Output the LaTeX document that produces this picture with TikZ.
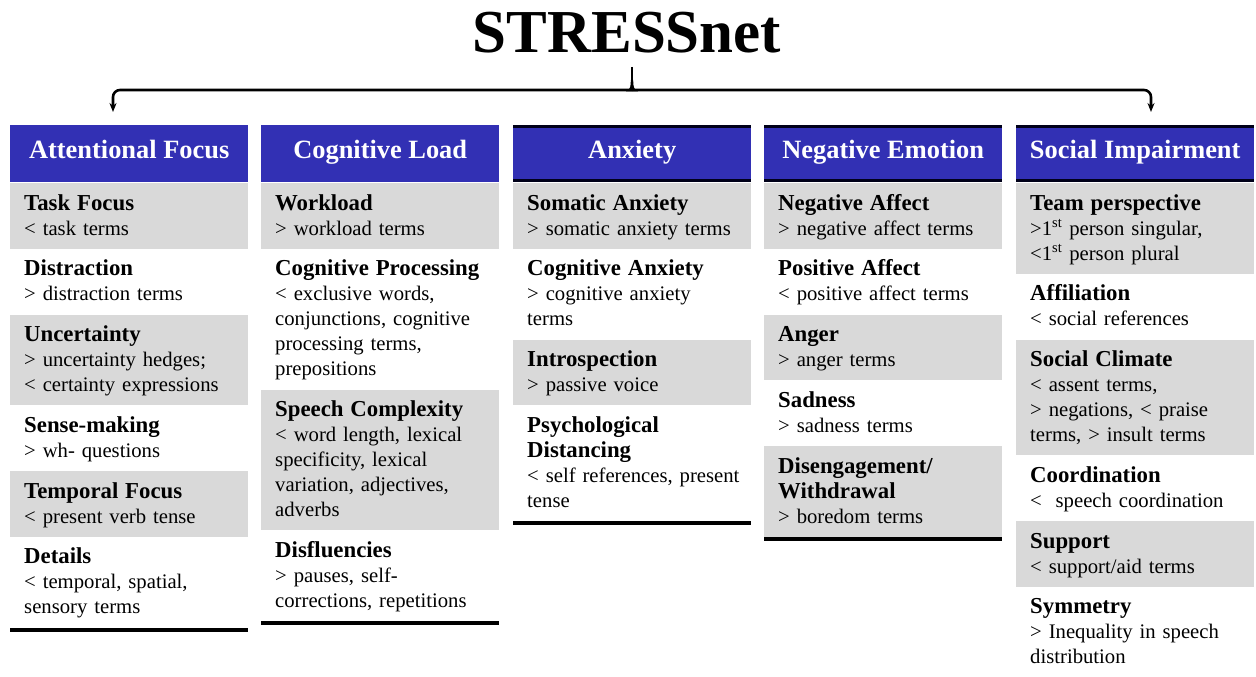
\documentclass[tikz,border=0pt]{standalone}
\usepackage{fontspec}
\setmainfont{Liberation Serif}
\usetikzlibrary{arrows.meta,positioning}

\definecolor{headblue}{RGB}{50,48,180}
\definecolor{rowgray}{RGB}{217,217,217}

% strut used on every line of a cell: 25pt line pitch
\newcommand\cellstrut{\rule[-6pt]{0pt}{25pt}}
\newcommand\rt[1]{\cellstrut{\fontsize{22.8}{25}\selectfont\bfseries #1}}
\newcommand\bt[1]{\cellstrut #1}

% one cell of a column: name, number of lines, fill, text
\newcommand\cellrow[4]{%
  \pgfmathsetmacro\rowh{25*#2+15.75}%
  \node[cellbox, fill=#3, minimum height=\rowh pt] (#1) at (\curx,\cury) {};
  \node[celltext] (#1t) at ([xshift=14pt,yshift=-7.875pt]#1.north west) {#4};
  \pgfmathsetmacro\rowbottom{\cury+\rowh}%
  \xdef\cury{\rowbottom}%
}

\begin{document}
\begin{tikzpicture}[x=1pt,y=-1pt,
  cellbox/.style={anchor=north west, inner sep=0pt, minimum width=238pt, draw=none},
  celltext/.style={anchor=north west, inner sep=0pt, text width=224pt, align=left,
    font=\fontsize{20.7}{25}\selectfont},
  headbox/.style={anchor=north west, inner sep=0pt, minimum width=238pt,
    minimum height=57pt, fill=headblue, draw=none},
  headtext/.style={anchor=base, inner sep=0pt, text=white,
    font=\fontsize{26.4}{30}\selectfont\bfseries},
  blackrule/.style={line width=3pt, draw=black!90!blue},
  bottomrule/.style={line width=4pt, draw=black},
  bracket/.style={line width=2.6pt, draw=black, rounded corners=7pt},
  tip/.style={-{Stealth[length=9pt,width=7pt]}}]

\useasboundingbox (0,0) rectangle (1256,677);

% title and its bracket
\node[anchor=base, inner sep=0pt, font=\fontsize{61}{61}\selectfont\bfseries] (title) at (627,53) {STRESSnet};
\coordinate (bt) at (632,90);
\coordinate (nt) at (632,67);
\coordinate (la) at (113,112);
\coordinate (ra) at (1151,112);
% central point of the bracket, flaring where it meets the bar
\draw[line width=2.4pt] (nt) -- (632,84);
\fill (626,91.3) .. controls (630.6,89.5) and (630.8,86) .. (630.8,80)
      -- (633.2,80) .. controls (633.2,86) and (633.4,89.5) .. (638,91.3) -- cycle;
\draw[bracket, tip] (bt) -| (la);
\draw[bracket, tip] (bt) -| (ra);

% column headers
\foreach \n/\x/\t in {1/10/Attentional Focus, 2/261/Cognitive Load, 3/513/Anxiety,
                      4/764/Negative Emotion, 5/1016/Social Impairment} {
  \node[headbox] (h\n) at (\x,125) {};
  \node[headtext] (h\n t) at ([yshift=-33pt]h\n.north) {\t};
}
\foreach \n in {3,4,5} {
  \draw[blackrule] ([yshift=-1.5pt]h\n.north west) -- ([yshift=-1.5pt]h\n.north east);
  \draw[blackrule] ([yshift=-55.5pt]h\n.north west) -- ([yshift=-55.5pt]h\n.north east);
}

% Attentional Focus
\xdef\curx{10}\xdef\cury{183}
\cellrow{a1}{2}{rowgray}{\rt{Task Focus}\\\bt{< task terms}}
\cellrow{a2}{2}{white}{\rt{Distraction}\\\bt{> distraction terms}}
\cellrow{a3}{3}{rowgray}{\rt{Uncertainty}\\\bt{> uncertainty hedges;}\\\bt{< certainty expressions}}
\cellrow{a4}{2}{white}{\rt{Sense-making}\\\bt{> wh- questions}}
\cellrow{a5}{2}{rowgray}{\rt{Temporal Focus}\\\bt{< present verb tense}}
\cellrow{a6}{3}{white}{\rt{Details}\\\bt{< temporal, spatial,}\\\bt{sensory terms}}
\draw[bottomrule] ([yshift=-2pt]a6.south west) -- ([yshift=-2pt]a6.south east);

% Cognitive Load
\xdef\curx{261}\xdef\cury{183}
\cellrow{b1}{2}{rowgray}{\rt{Workload}\\\bt{> workload terms}}
\cellrow{b2}{5}{white}{\rt{Cognitive Processing}\\\bt{< exclusive words,}\\\bt{conjunctions, cognitive}\\\bt{processing terms,}\\\bt{prepositions}}
\cellrow{b3}{5}{rowgray}{\rt{Speech Complexity}\\\bt{< word length, lexical}\\\bt{specificity, lexical}\\\bt{variation, adjectives,}\\\bt{adverbs}}
\cellrow{b4}{3}{white}{\rt{Disfluencies}\\\bt{> pauses, self-}\\\bt{corrections, repetitions}}
\draw[bottomrule] ([yshift=-2pt]b4.south west) -- ([yshift=-2pt]b4.south east);

% Anxiety
\xdef\curx{513}\xdef\cury{183}
\cellrow{c1}{2}{rowgray}{\rt{Somatic Anxiety}\\\bt{> somatic anxiety terms}}
\cellrow{c2}{3}{white}{\rt{Cognitive Anxiety}\\\bt{> cognitive anxiety}\\\bt{terms}}
\cellrow{c3}{2}{rowgray}{\rt{Introspection}\\\bt{> passive voice}}
\cellrow{c4}{4}{white}{\rt{Psychological}\\\rt{Distancing}\\\bt{< self references, present}\\\bt{tense}}
\draw[bottomrule] ([yshift=-2pt]c4.south west) -- ([yshift=-2pt]c4.south east);

% Negative Emotion
\xdef\curx{764}\xdef\cury{183}
\cellrow{d1}{2}{rowgray}{\rt{Negative Affect}\\\bt{> negative affect terms}}
\cellrow{d2}{2}{white}{\rt{Positive Affect}\\\bt{< positive affect terms}}
\cellrow{d3}{2}{rowgray}{\rt{Anger}\\\bt{> anger terms}}
\cellrow{d4}{2}{white}{\rt{Sadness}\\\bt{> sadness terms}}
\cellrow{d5}{3}{rowgray}{\rt{Disengagement/}\\\rt{Withdrawal}\\\bt{> boredom terms}}
\draw[bottomrule] ([yshift=-2pt]d5.south west) -- ([yshift=-2pt]d5.south east);

% Social Impairment
\xdef\curx{1016}\xdef\cury{183}
\cellrow{e1}{3}{rowgray}{\rt{Team perspective}\\\bt{>1\textsuperscript{st} person singular,}\\\bt{<1\textsuperscript{st} person plural}}
\cellrow{e2}{2}{white}{\rt{Affiliation}\\\bt{< social references}}
\cellrow{e3}{4}{rowgray}{\rt{Social Climate}\\\bt{< assent terms,}\\\bt{> negations, < praise}\\\bt{terms, > insult terms}}
\cellrow{e4}{2}{white}{\rt{Coordination}\\\bt{<\ \ speech coordination}}
\cellrow{e5}{2}{rowgray}{\rt{Support}\\\bt{< support/aid terms}}
\cellrow{e6}{3}{white}{\rt{Symmetry}\\\bt{> Inequality in speech}\\\bt{distribution}}

\end{tikzpicture}
\end{document}
